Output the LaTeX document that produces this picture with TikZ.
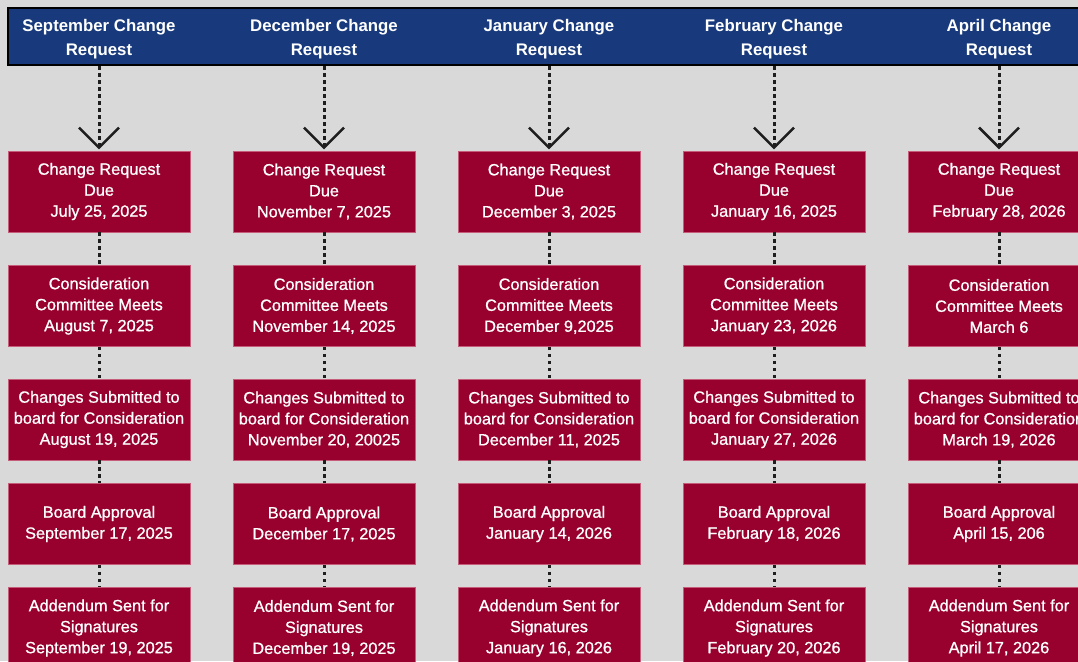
\documentclass[tikz,border=0pt]{standalone}
\usepackage{fontspec}
\setmainfont{Liberation Sans}
\newfontfamily\boxfont[FakeBold=0.9]{Liberation Sans}
\definecolor{bgc}{RGB}{217,217,217}
\definecolor{hblue}{RGB}{24,58,124}
\definecolor{crim}{RGB}{152,0,46}
\definecolor{crimedge}{RGB}{196,92,122}
\definecolor{ink}{RGB}{30,30,30}
\begin{document}
\begin{tikzpicture}[x=1pt,y=-1pt,
  crbox/.style={draw=crimedge, line width=0.8pt, fill=crim, text=white,
    minimum width=182pt, minimum height=81pt, inner sep=0pt, align=center,
    font=\boxfont\fontsize{16.3}{21}\selectfont},
  hdrbox/.style={draw=black, line width=2.5pt, fill=hblue,
    minimum width=1082pt, minimum height=57pt, inner sep=0pt},
  hdrtext/.style={text=white, align=center, inner sep=0pt,
    font=\bfseries\fontsize{16.8}{24}\selectfont},
  dotline/.style={draw=ink, line width=3pt, dash pattern=on 3.5pt off 3.5pt},
  chev/.style={draw=ink, line width=2.6pt}]
\fill[bgc] (0,0) rectangle (1078,661);
\useasboundingbox (0,0) rectangle (1078,661);
\node[hdrbox] (hdr) at (549,36.5) {};
\foreach \c/\m in {1/September,2/December,3/January,4/February,5/April}{
  \node[hdrtext] (h\c) at ({99+225*(\c-1)},39) {\m{} Change\\Request};
}
% column 1
\node[crbox] (b11) at (99,191.5) {Change Request\\Due\\July 25, 2025};
\node[crbox] (b12) at (99,306) {Consideration\\Committee Meets\\August 7, 2025};
\node[crbox] (b13) at (99,419.5) {Changes Submitted to\\board for Consideration\\August 19, 2025};
\node[crbox] (b14) at (99,524) {Board Approval\\September 17, 2025};
\node[crbox] (b15) at (99,628) {Addendum Sent for\\Signatures\\September 19, 2025};
% column 2
\node[crbox] (b21) at (324,191.5) {Change Request\\Due\\November 7, 2025};
\node[crbox] (b22) at (324,306) {Consideration\\Committee Meets\\November 14, 2025};
\node[crbox] (b23) at (324,419.5) {Changes Submitted to\\board for Consideration\\November 20, 20025};
\node[crbox] (b24) at (324,524) {Board Approval\\December 17, 2025};
\node[crbox] (b25) at (324,628) {Addendum Sent for\\Signatures\\December 19, 2025};
% column 3
\node[crbox] (b31) at (549,191.5) {Change Request\\Due\\December 3, 2025};
\node[crbox] (b32) at (549,306) {Consideration\\Committee Meets\\December 9,2025};
\node[crbox] (b33) at (549,419.5) {Changes Submitted to\\board for Consideration\\December 11, 2025};
\node[crbox] (b34) at (549,524) {Board Approval\\January 14, 2026};
\node[crbox] (b35) at (549,628) {Addendum Sent for\\Signatures\\January 16, 2026};
% column 4
\node[crbox] (b41) at (774,191.5) {Change Request\\Due\\January 16, 2025};
\node[crbox] (b42) at (774,306) {Consideration\\Committee Meets\\January 23, 2026};
\node[crbox] (b43) at (774,419.5) {Changes Submitted to\\board for Consideration\\January 27, 2026};
\node[crbox] (b44) at (774,524) {Board Approval\\February 18, 2026};
\node[crbox] (b45) at (774,628) {Addendum Sent for\\Signatures\\February 20, 2026};
% column 5
\node[crbox] (b51) at (999,191.5) {Change Request\\Due\\February 28, 2026};
\node[crbox] (b52) at (999,306) {Consideration\\Committee Meets\\March 6};
\node[crbox] (b53) at (999,419.5) {Changes Submitted to\\board for Consideration\\March 19, 2026};
\node[crbox] (b54) at (999,524) {Board Approval\\April 15, 206};
\node[crbox] (b55) at (999,628) {Addendum Sent for\\Signatures\\April 17, 2026};
% connectors
\foreach \c in {1,...,5}{
  \draw[dotline] (hdr.south -| b\c1.north) -- ([yshift=5pt]b\c1.north);
  \draw[chev] ([shift={(-20,-23)}]b\c1.north) -- ([shift={(0,-3)}]b\c1.north) -- ([shift={(20,-23)}]b\c1.north);
  \foreach \r/\s in {1/2,2/3,3/4,4/5}{
    \draw[dotline] (b\c\r) -- (b\c\s);
  }
}
\end{tikzpicture}
\end{document}
